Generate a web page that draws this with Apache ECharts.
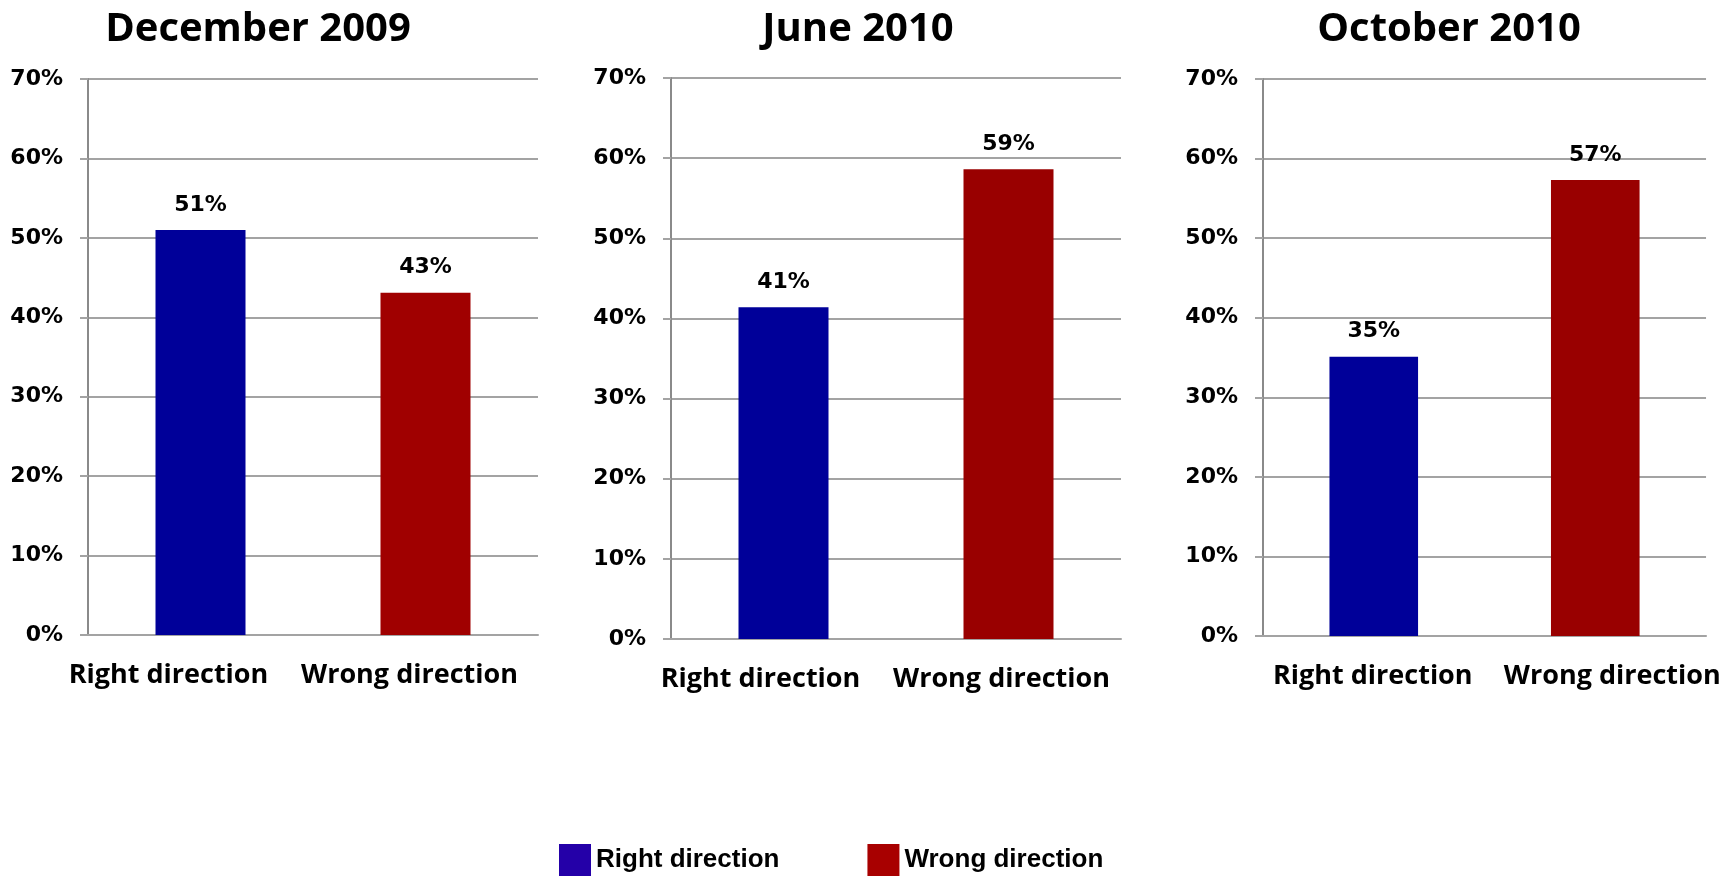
<!DOCTYPE html>
<html><head><meta charset="utf-8">
<script src="https://cdn.jsdelivr.net/npm/echarts@6/dist/echarts.min.js"></script>
<style>html,body{margin:0;padding:0;background:#fff}#c{width:1723px;height:876px}</style>
</head><body><div id="c"></div>
<script>
// ---- data ----
const panelTitles = ['December 2009', 'June 2010', 'October 2010'];
const categories = ['Right direction', 'Wrong direction'];
const rightDirection = [51.0, 41.4, 35.1];
const wrongDirection = [43.1, 58.6, 57.3];
const yTicks = [0, 10, 20, 30, 40, 50, 60, 70];

// ---- layout / style ----
const grids = [
  {left: 88, top: 79, width: 450, height: 556},
  {left: 671, top: 78, width: 450, height: 561},
  {left: 1263, top: 79, width: 446, height: 557}
];
const titleCenters = [258, 858, 1449];
const labelShifts = [[-32, -16], [-23, -7], [-1, 17]];
const barColors = [['#000099', '#A00000'], ['#000099', '#990000'], ['#000099', '#990000']];
const gridGray = '#a3a3a3';

const chart = echarts.init(document.getElementById('c'), null, {renderer: 'canvas'});

const titles = [], xAxes = [], yAxes = [], series = [];
panelTitles.forEach((t, i) => {
  titles.push({
    text: t, left: titleCenters[i], top: 10, textAlign: 'center', padding: 0,
    textStyle: {fontFamily: 'Open Sans', fontWeight: 'bold', fontSize: 40, color: '#000'}
  });
  xAxes.push({
    type: 'category', gridIndex: i,
    data: categories.map((c, k) => {
      const s = labelShifts[i][k];
      return {value: c, textStyle: {padding: s < 0 ? [0, -2 * s, 0, 0] : [0, 0, 0, 2 * s]}};
    }),
    axisLine: {show: true, lineStyle: {color: gridGray, width: 2}},
    axisTick: {show: false},
    axisLabel: {interval: 0, margin: 27, fontFamily: 'Open Sans', fontWeight: 'bold', fontSize: 27, color: '#000'}
  });
  yAxes.push({
    type: 'value', gridIndex: i,
    min: yTicks[0], max: yTicks[yTicks.length - 1], interval: yTicks[1] - yTicks[0],
    axisLine: {show: true, lineStyle: {color: '#8a8a8a', width: 2}},
    axisTick: {show: true, length: 8, lineStyle: {color: gridGray, width: 2}},
    splitLine: {show: true, lineStyle: {color: gridGray, width: 2}},
    axisLabel: {margin: 25, formatter: '{value}%', fontFamily: 'DejaVu Sans', fontWeight: 'bold', fontSize: 22, color: '#000'}
  });
  const lbl = {
    show: true, position: 'top', distance: 14,
    formatter: p => Math.round(p.value) + '%',
    fontFamily: 'DejaVu Sans', fontWeight: 'bold', fontSize: 22, color: '#000'
  };
  series.push({
    type: 'bar', name: 'Right direction', xAxisIndex: i, yAxisIndex: i, stack: 'p' + i,
    barWidth: '40%', data: [rightDirection[i], '-'],
    itemStyle: {color: barColors[i][0]}, label: lbl
  });
  series.push({
    type: 'bar', name: 'Wrong direction', xAxisIndex: i, yAxisIndex: i, stack: 'p' + i,
    barWidth: '40%', data: ['-', wrongDirection[i]],
    itemStyle: {color: barColors[i][1]}, label: lbl
  });
});

chart.setOption({
  animation: false,
  backgroundColor: '#fff',
  title: titles,
  grid: grids,
  xAxis: xAxes,
  yAxis: yAxes,
  legend: {
    left: 559, top: 844, itemWidth: 32, itemHeight: 32, itemGap: 88, padding: 0,
    icon: 'rect',
    data: [
      {name: 'Right direction', itemStyle: {color: '#2400A8'}},
      {name: 'Wrong direction', itemStyle: {color: '#A80000'}}
    ],
    textStyle: {fontFamily: 'Liberation Sans', fontWeight: 'bold', fontSize: 26, color: '#000', padding: [4, 0, 0, 0]}
  },
  series: series
});
</script>
</body></html>
